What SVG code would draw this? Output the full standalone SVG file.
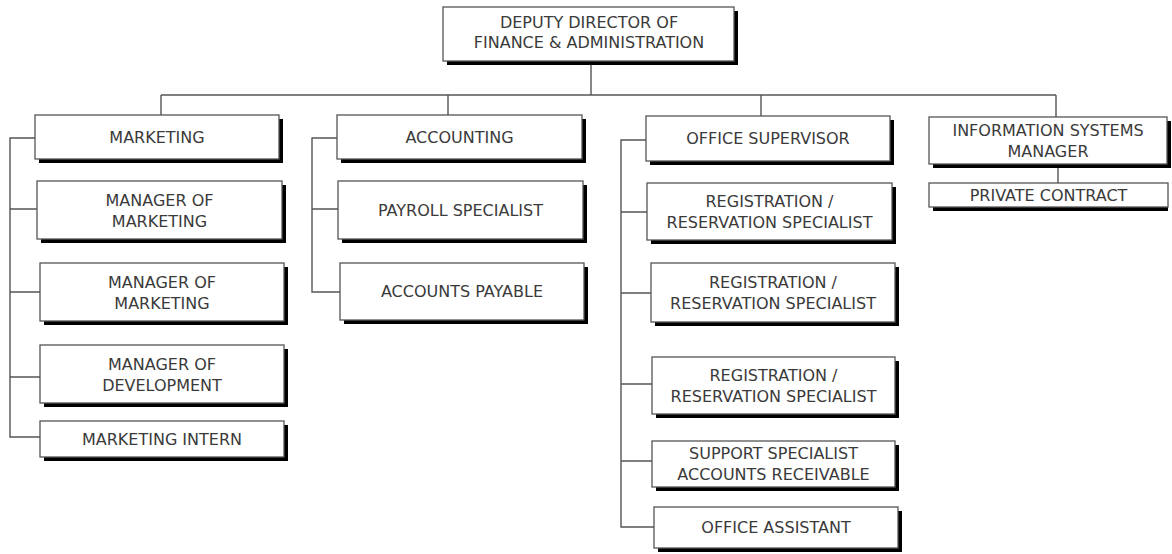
<svg xmlns="http://www.w3.org/2000/svg" width="1172" height="554" viewBox="0 0 1172 554">
<style>
.sh{fill:#000}
.bx{fill:#fff;stroke:#555;stroke-width:1.3}
.t{font-family:"DejaVu Sans","Liberation Sans",sans-serif;font-size:16px;fill:#3a3a3a;text-anchor:middle}
.c{fill:none;stroke:#555;stroke-width:1.4}
</style>
<rect width="1172" height="554" fill="#fff"/>
<g id="connectors">
<path class="c" d="M591 61V95M161 95H1056M161 95V115M448 95V115M761 95V116M1056 95V117"/>
<path class="c" d="M35 138H10V437H40M10 209H37M10 292H40M10 377H40"/>
<path class="c" d="M337 138H312V292H340M312 209H338"/>
<path class="c" d="M646 140H621V527H654M621 212H647M621 293H651M621 384H652M621 461H652"/>
<path class="c" d="M1058 164V183"/>
</g>
<g id="n-deputy"><rect class="sh" x="447" y="11" width="291" height="54"/><rect class="bx" x="443" y="7" width="291" height="54"/><text class="t" x="589" y="28">DEPUTY DIRECTOR OF</text><text class="t" x="589" y="48">FINANCE &amp; ADMINISTRATION</text></g>
<g id="n-marketing"><rect class="sh" x="39" y="119" width="244" height="44"/><rect class="bx" x="35" y="115" width="244" height="44"/><text class="t" x="157" y="143">MARKETING</text></g>
<g id="n-mgr-mkt1"><rect class="sh" x="41" y="185" width="245" height="58"/><rect class="bx" x="37" y="181" width="245" height="58"/><text class="t" x="159.5" y="206">MANAGER OF</text><text class="t" x="159.5" y="227">MARKETING</text></g>
<g id="n-mgr-mkt2"><rect class="sh" x="44" y="267" width="244" height="58"/><rect class="bx" x="40" y="263" width="244" height="58"/><text class="t" x="162" y="288">MANAGER OF</text><text class="t" x="162" y="309">MARKETING</text></g>
<g id="n-mgr-dev"><rect class="sh" x="44" y="349" width="244" height="58"/><rect class="bx" x="40" y="345" width="244" height="58"/><text class="t" x="162" y="370">MANAGER OF</text><text class="t" x="162" y="391">DEVELOPMENT</text></g>
<g id="n-intern"><rect class="sh" x="44" y="425" width="244" height="36"/><rect class="bx" x="40" y="421" width="244" height="36"/><text class="t" x="162" y="445">MARKETING INTERN</text></g>
<g id="n-accounting"><rect class="sh" x="341" y="119" width="245" height="44"/><rect class="bx" x="337" y="115" width="245" height="44"/><text class="t" x="459.5" y="143">ACCOUNTING</text></g>
<g id="n-payroll"><rect class="sh" x="342" y="185" width="245" height="58"/><rect class="bx" x="338" y="181" width="245" height="58"/><text class="t" x="460.5" y="216">PAYROLL SPECIALIST</text></g>
<g id="n-payable"><rect class="sh" x="344" y="267" width="244" height="57"/><rect class="bx" x="340" y="263" width="244" height="57"/><text class="t" x="462" y="297">ACCOUNTS PAYABLE</text></g>
<g id="n-office-sup"><rect class="sh" x="650" y="120" width="244" height="45"/><rect class="bx" x="646" y="116" width="244" height="45"/><text class="t" x="768" y="144">OFFICE SUPERVISOR</text></g>
<g id="n-reg1"><rect class="sh" x="651" y="187" width="245" height="57"/><rect class="bx" x="647" y="183" width="245" height="57"/><text class="t" x="769.5" y="207">REGISTRATION /</text><text class="t" x="769.5" y="228">RESERVATION SPECIALIST</text></g>
<g id="n-reg2"><rect class="sh" x="655" y="267" width="244" height="59"/><rect class="bx" x="651" y="263" width="244" height="59"/><text class="t" x="773" y="288">REGISTRATION /</text><text class="t" x="773" y="309">RESERVATION SPECIALIST</text></g>
<g id="n-reg3"><rect class="sh" x="656" y="361" width="243" height="57"/><rect class="bx" x="652" y="357" width="243" height="57"/><text class="t" x="773.5" y="381">REGISTRATION /</text><text class="t" x="773.5" y="402">RESERVATION SPECIALIST</text></g>
<g id="n-support"><rect class="sh" x="656" y="445" width="243" height="46"/><rect class="bx" x="652" y="441" width="243" height="46"/><text class="t" x="773.5" y="459">SUPPORT SPECIALIST</text><text class="t" x="773.5" y="480">ACCOUNTS RECEIVABLE</text></g>
<g id="n-office-asst"><rect class="sh" x="658" y="511" width="244" height="41"/><rect class="bx" x="654" y="507" width="244" height="41"/><text class="t" x="776" y="533">OFFICE ASSISTANT</text></g>
<g id="n-info"><rect class="sh" x="933" y="121" width="238" height="47"/><rect class="bx" x="929" y="117" width="238" height="47"/><text class="t" x="1048" y="136">INFORMATION SYSTEMS</text><text class="t" x="1048" y="157">MANAGER</text></g>
<g id="n-private"><rect class="sh" x="933" y="187" width="235" height="24"/><rect class="bx" x="929" y="183" width="239" height="24"/><text class="t" x="1048.5" y="201">PRIVATE CONTRACT</text></g>
</svg>
